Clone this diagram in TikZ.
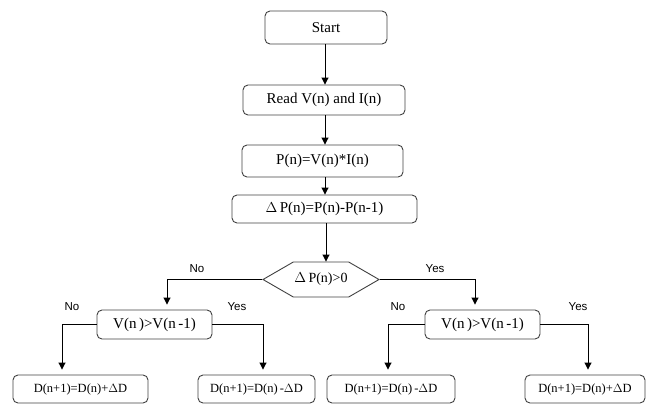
\documentclass[tikz,border=0pt]{standalone}
\usepackage{fontspec}
\setmainfont{Liberation Serif}
\newfontfamily\labfont{Liberation Sans}
\usetikzlibrary{arrows.meta,shapes.symbols,calc}
\begin{document}
\begin{tikzpicture}[x=1pt,y=-1pt,
  box/.style={draw=black!75,line width=0.9pt,rounded corners=5pt,inner sep=0pt,font=\fontsize{15}{17}\selectfont},
  dbox/.style={box,font=\fontsize{12.5}{14}\selectfont},
  conn/.style={line width=0.9pt,-{Triangle[width=7pt,length=7pt]}},
  gap/.style={conn,shorten >=5pt},
  lab/.style={font=\labfont\fontsize{11.5}{13}\selectfont,inner sep=0pt}]
\useasboundingbox (0,0) rectangle (647,405);
\node[box,minimum width=122pt,minimum height=33pt] (start) at (326,27.5) {Start};
\node[box,minimum width=162pt,minimum height=30pt] (read) at (324,100) {Read V(n) and I(n)};
\node[box,minimum width=161pt,minimum height=32pt] (pn) at (322.5,161) {P(n)=V(n)*I(n)};
\node[box,minimum width=185pt,minimum height=28pt] (dp) at (324.5,209) {$\Delta$\,P(n)=P(n)-P(n-1)};
\node[draw=black!75,line width=0.9pt,shape=signal,signal to=west and east,signal pointer angle=60,
  minimum width=116pt,minimum height=35pt,inner sep=0pt,font=\fontsize{14}{16}\selectfont] (dec) at (321,279.5) {$\Delta$\,P(n)>0};
\node[box,minimum width=115pt,minimum height=29pt] (lv) at (154.5,324.5) {V(n\,)>V(n\,-1)};
\node[box,minimum width=115pt,minimum height=29pt] (rv) at (482.5,324.5) {V(n\,)>V(n\,-1)};
\node[dbox,minimum width=135pt,minimum height=28pt] (b1) at (80.5,389) {D(n+1)=D(n)+$\Delta$D};
\node[dbox,minimum width=117pt,minimum height=28pt] (b2) at (256.5,389) {D(n+1)=D(n)\,-$\Delta$D};
\node[dbox,minimum width=128pt,minimum height=28pt] (b3) at (391,389) {D(n+1)=D(n)\,-$\Delta$D};
\node[dbox,minimum width=120pt,minimum height=28pt] (b4) at (585,389) {D(n+1)=D(n)+$\Delta$D};
\draw[conn] (start.south -| 325,0) -- (read.north -| 325,0);
\draw[conn] (read.south -| 325,0) -- (pn.north -| 325,0);
\draw[conn] (pn.south -| 325,0) -- (dp.north -| 325,0);
\draw[conn] (dp.south -| 326,0) -- (dec.north -| 326,0);
\draw[gap] (dec.west) -| ([xshift=12.5pt]lv.north);
\draw[gap] (dec.east) -| ([xshift=-7.5pt]rv.north);
\draw[gap] (lv.west) -| ([xshift=-18.5pt]b1.north);
\draw[gap] (lv.east) -| ([xshift=6.5pt]b2.north);
\draw[gap] (rv.west) -| ([xshift=-3pt]b3.north);
\draw[gap] (rv.east) -| ([xshift=3pt]b4.north);
\node[lab] (l1) at (197,269) {No};
\node[lab] (l2) at (435,269) {Yes};
\node[lab] (l3) at (72,307) {No};
\node[lab] (l4) at (237,307) {Yes};
\node[lab] (l5) at (398,307) {No};
\node[lab] (l6) at (578,307) {Yes};
\end{tikzpicture}
\end{document}
